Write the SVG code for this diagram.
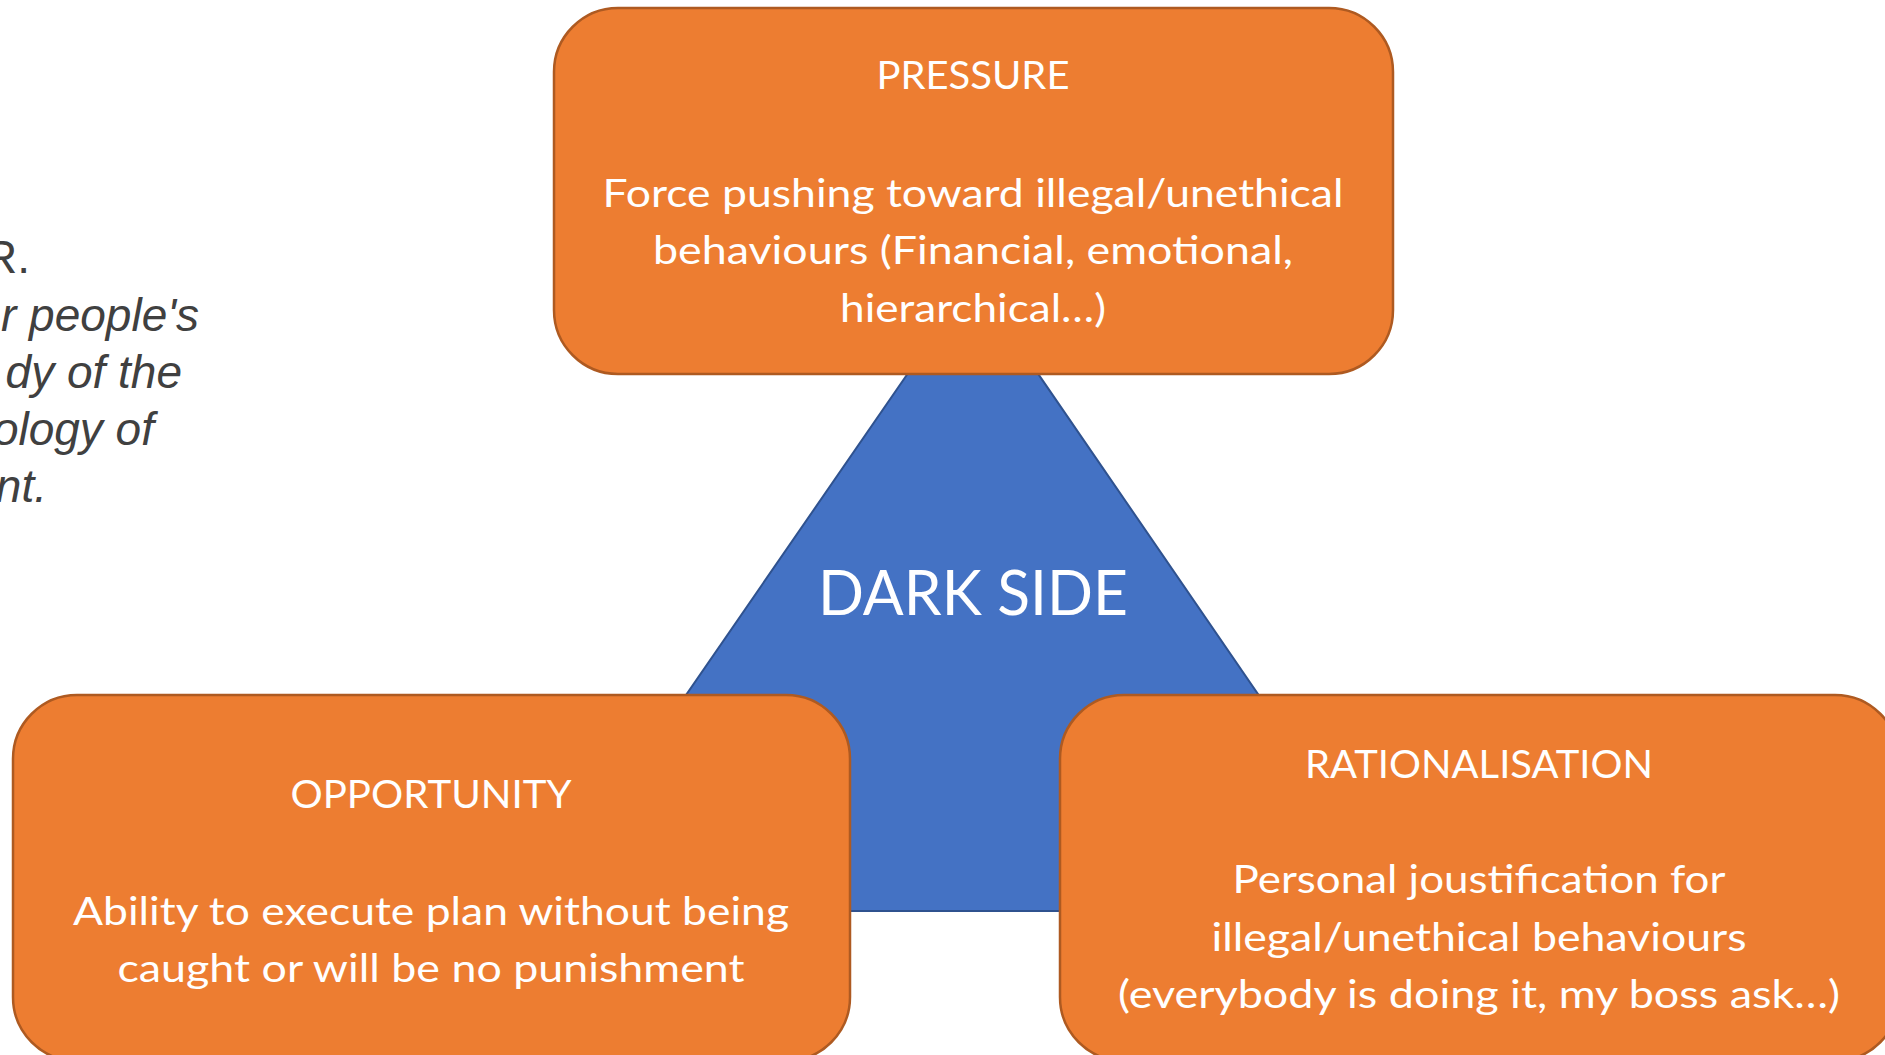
<svg xmlns="http://www.w3.org/2000/svg" width="1885" height="1055" viewBox="0 0 1885 1055">
<style>
.box{fill:#ED7D31;stroke:#AE5A21;stroke-width:2.5}
.tri{fill:#4472C4;stroke:#2F528F;stroke-width:2}
.t{font-family:Lato,"Open Sans","Liberation Sans",sans-serif;fill:#FFFFFF;font-size:39px;text-anchor:middle}
.big{font-size:62px}
.side{font-family:"Liberation Sans",Arial,sans-serif;fill:#404040;font-size:46px;text-anchor:end}
</style>
<rect width="1885" height="1055" fill="#FFFFFF"/>
<g id="side-text">
<text class="side" x="30" y="273">R.</text>
<text class="side" x="199" y="331" font-style="italic">r people's</text>
<text class="side" x="182" y="388" font-style="italic">dy of the</text>
<text class="side" x="154" y="445" font-style="italic">ology of</text>
<text class="side" x="47" y="502" font-style="italic">nt.</text>
</g>
<g id="connectors"></g>
<g id="dark-side">
<polygon class="tri" points="973,279 537,911 1407,911"/>
<text class="t big" x="973" y="615" textLength="310" lengthAdjust="spacingAndGlyphs">DARK SIDE</text>
</g>
<g id="pressure">
<rect class="box" x="554" y="8" width="839" height="366" rx="64" ry="64"/>
<text class="t" x="973" y="89" textLength="193" lengthAdjust="spacingAndGlyphs">PRESSURE</text>
<text class="t" x="973" y="207" textLength="741" lengthAdjust="spacingAndGlyphs">Force pushing toward illegal/unethical</text>
<text class="t" x="973" y="264" textLength="640" lengthAdjust="spacingAndGlyphs">behaviours (Financial, emotional,</text>
<text class="t" x="973" y="322" textLength="266" lengthAdjust="spacingAndGlyphs">hierarchical…)</text>
</g>
<g id="opportunity">
<rect class="box" x="13" y="695" width="837" height="366" rx="64" ry="64"/>
<text class="t" x="431" y="808" textLength="281" lengthAdjust="spacingAndGlyphs">OPPORTUNITY</text>
<text class="t" x="431" y="925" textLength="716" lengthAdjust="spacingAndGlyphs">Ability to execute plan without being</text>
<text class="t" x="431" y="982" textLength="627" lengthAdjust="spacingAndGlyphs">caught or will be no punishment</text>
</g>
<g id="rationalisation">
<rect class="box" x="1060" y="695" width="839" height="366" rx="64" ry="64"/>
<text class="t" x="1479" y="778" textLength="348" lengthAdjust="spacingAndGlyphs">RATIONALISATION</text>
<text class="t" x="1479" y="893" textLength="493" lengthAdjust="spacingAndGlyphs">Personal joustification for</text>
<text class="t" x="1479" y="951" textLength="535" lengthAdjust="spacingAndGlyphs">illegal/unethical behaviours</text>
<text class="t" x="1479" y="1008" textLength="722" lengthAdjust="spacingAndGlyphs">(everybody is doing it, my boss ask…)</text>
</g>
</svg>
